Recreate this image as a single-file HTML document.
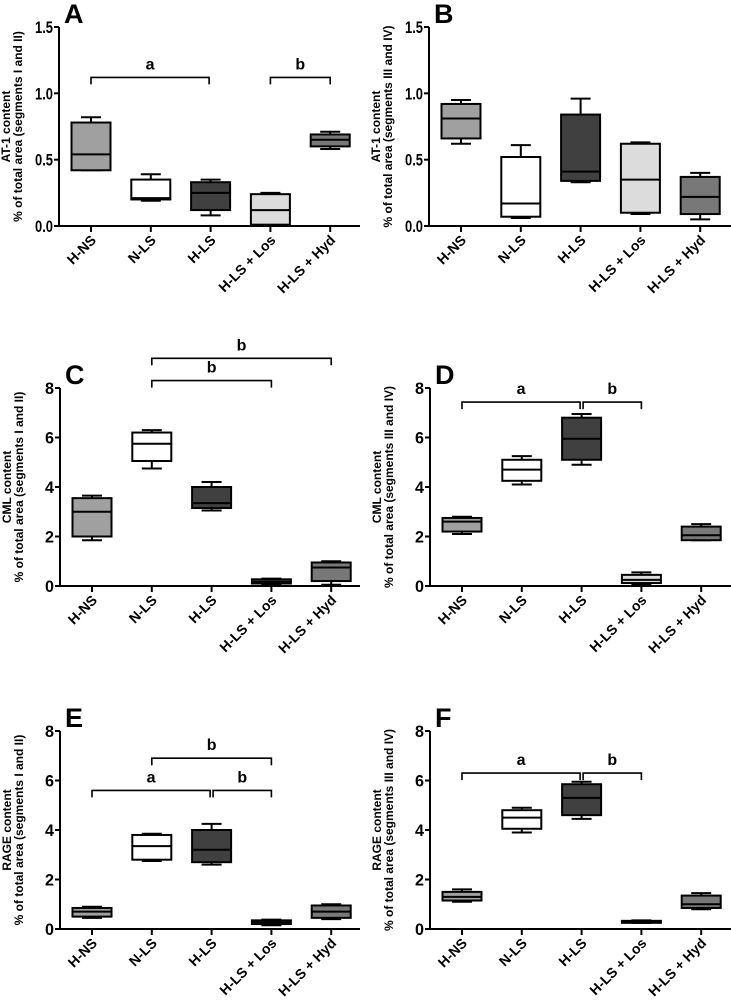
<!DOCTYPE html>
<html><head><meta charset="utf-8">
<style>
html,body{margin:0;padding:0;background:#fff;}
svg{display:block;font-family:"Liberation Sans",Arial,sans-serif;}
</style></head>
<body>
<svg id="fig" width="731" height="1007" viewBox="0 0 731 1007" xmlns="http://www.w3.org/2000/svg"></svg>
<script>
const categories = ["H-NS","N-LS","H-LS","H-LS + Los","H-LS + Hyd"];
const boxFills = ["#a0a0a0","#ffffff","#404040","#dcdcdc","#787878"];
// each: [min, q1, median, q3, max]
const dataA = [[0.42,0.42,0.54,0.78,0.82],[0.19,0.20,0.21,0.35,0.39],[0.08,0.12,0.25,0.33,0.35],[0.00,0.01,0.12,0.24,0.25],[0.58,0.60,0.65,0.69,0.71]];
const dataB = [[0.62,0.66,0.81,0.92,0.95],[0.06,0.07,0.17,0.52,0.61],[0.33,0.34,0.41,0.84,0.96],[0.09,0.10,0.35,0.62,0.63],[0.05,0.09,0.22,0.37,0.40]];
const dataC = [[1.85,2.0,3.0,3.55,3.65],[4.75,5.05,5.75,6.2,6.3],[3.05,3.15,3.35,4.0,4.2],[0.05,0.1,0.18,0.27,0.3],[0.05,0.2,0.75,0.95,1.0]];
const dataD = [[2.1,2.2,2.6,2.75,2.8],[4.1,4.25,4.7,5.1,5.25],[4.9,5.1,5.95,6.8,6.95],[0.05,0.12,0.25,0.45,0.55],[1.85,1.85,2.05,2.4,2.5]];
const dataE = [[0.45,0.5,0.7,0.85,0.9],[2.75,2.8,3.35,3.8,3.85],[2.6,2.7,3.2,4.0,4.25],[0.15,0.2,0.28,0.35,0.38],[0.4,0.45,0.7,0.95,1.0]];
const dataF = [[1.1,1.15,1.3,1.5,1.6],[3.9,4.05,4.5,4.8,4.9],[4.45,4.6,5.3,5.85,5.95],[0.25,0.27,0.3,0.33,0.35],[0.8,0.85,1.0,1.35,1.45]];
const ticksSmall = [0,0.5,1.0,1.5];
const ticksLarge = [0,2,4,6,8];
// brackets: [fromIndex, toIndex, yValue, letter]
const brA = [[0,2,1.12,"a"],[3,4,1.12,"b"]];
const brB = [];
const brC = [[1,4,9.2,"b"],[1,3,8.3,"b"]];
const brD = [[0,2,7.43,"a"],[2,3,7.43,"b"]];
const brE = [[1,3,6.9,"b"],[0,2,5.6,"a"],[2,3,5.6,"b"]];
const brF = [[0,2,6.3,"a"],[2,3,6.3,"b"]];

const NS="http://www.w3.org/2000/svg";
const svg=document.getElementById('fig');
function el(tag,attrs,parent,text){const e=document.createElementNS(NS,tag);for(const k in attrs)e.setAttribute(k,attrs[k]);if(text!==undefined)e.textContent=text;(parent||svg).appendChild(e);return e;}

function panel(p){
  const g=el('g',{});
  
  
  const y=v=>p.y0-(v-p.vmin)/(p.vmax-p.vmin)*(p.y0-p.y1);
  const x=i=>p.ax+32+i*59.8;
  const L=el('text',{x:p.ax+5,y:p.y1-4,'font-size':27,'font-weight':'bold'},g,p.letter);
  
  const ya=el('line',{x1:p.ax,y1:p.y1,x2:p.ax,y2:p.y0+1,stroke:'#000','stroke-width':2},g);
  
  const xa=el('line',{x1:p.ax-1,y1:p.y0,x2:p.xe,y2:p.y0,stroke:'#000','stroke-width':2},g);
  
  p.ticks.forEach(t=>{
    el('line',{x1:p.ax-5,y1:y(t),x2:p.ax,y2:y(t),stroke:'#000','stroke-width':2},g);
    const s=p.dec?t.toFixed(1):String(t);
    const tl=el('text',{x:p.ax-6,y:y(t)+6,'font-size':17,'font-weight':'bold','text-anchor':'end',textLength:p.dec?18:9,lengthAdjust:'spacingAndGlyphs'},g,s);
    
  });
  const yt=el('text',{transform:`translate(${p.ax-47},${(p.y0+p.y1)/2}) rotate(-90)`,'font-size':12,'font-weight':'bold','text-anchor':'middle'},g);
  
  el('tspan',{x:0,dy:-2},yt,p.t1);
  el('tspan',{x:0,dy:12},yt,p.t2);
  categories.forEach((c,i)=>{
    el('line',{x1:x(i),y1:p.y0,x2:x(i),y2:p.y0+6,stroke:'#000','stroke-width':2},g);
    const cl=el('text',{transform:`translate(${x(i)+6},${p.y0+15}) rotate(-45)`,'font-size':14,'font-weight':'bold','text-anchor':'end'},g,c);
    
    const d=p.data[i];const w=39,h=w/2;
    const bg=el('g',{},g);
    
    
    el('line',{x1:x(i),y1:y(d[0]),x2:x(i),y2:y(d[4]),stroke:'#000','stroke-width':2},bg);
    el('line',{x1:x(i)-10,y1:y(d[0]),x2:x(i)+10,y2:y(d[0]),stroke:'#000','stroke-width':2},bg);
    el('line',{x1:x(i)-10,y1:y(d[4]),x2:x(i)+10,y2:y(d[4]),stroke:'#000','stroke-width':2},bg);
    el('rect',{x:x(i)-h,y:y(d[3]),width:w,height:Math.max(2,y(d[1])-y(d[3])),fill:boxFills[i],stroke:'#000','stroke-width':2},bg);
    el('line',{x1:x(i)-h,y1:y(d[2]),x2:x(i)+h,y2:y(d[2]),stroke:'#000','stroke-width':2},bg);
  });
  p.br.forEach(b=>{
    const bg=el('g',{},g);
    
    
    const yy=y(b[2]),x1=x(b[0])+(b[0]===2?1.5:0),x2=x(b[1])-(b[1]===2?1.5:0);
    el('path',{d:`M${x1},${yy+7}V${yy}H${x2}V${yy+7}`,fill:'none',stroke:'#000','stroke-width':1.6},bg);
    el('text',{x:(x1+x2)/2,y:yy-8,'font-size':16,'font-weight':'bold','text-anchor':'middle'},bg,b[3]);
  });
}
const tA1="AT-1 content",tC1="CML content",tE1="RAGE content";
const s12="% of total area (segments I and II)",s34="% of total area (segments III and IV)";
panel({letter:'A',ax:59,xe:360,y1:27,y0:226,vmin:0,vmax:1.5,ticks:ticksSmall,dec:true,data:dataA,br:brA,t1:tA1,t2:s12});
panel({letter:'B',ax:429,xe:731,y1:27,y0:226,vmin:0,vmax:1.5,ticks:ticksSmall,dec:true,data:dataB,br:brB,t1:tA1,t2:s34});
panel({letter:'C',ax:60,xe:360,y1:388,y0:586,vmin:0,vmax:8,ticks:ticksLarge,dec:false,data:dataC,br:brC,t1:tC1,t2:s12});
panel({letter:'D',ax:430,xe:731,y1:388,y0:586,vmin:0,vmax:8,ticks:ticksLarge,dec:false,data:dataD,br:brD,t1:tC1,t2:s34});
panel({letter:'E',ax:60,xe:360,y1:731,y0:929,vmin:0,vmax:8,ticks:ticksLarge,dec:false,data:dataE,br:brE,t1:tE1,t2:s12});
panel({letter:'F',ax:430,xe:731,y1:731,y0:929,vmin:0,vmax:8,ticks:ticksLarge,dec:false,data:dataF,br:brF,t1:tE1,t2:s34});
</script>
</body></html>
